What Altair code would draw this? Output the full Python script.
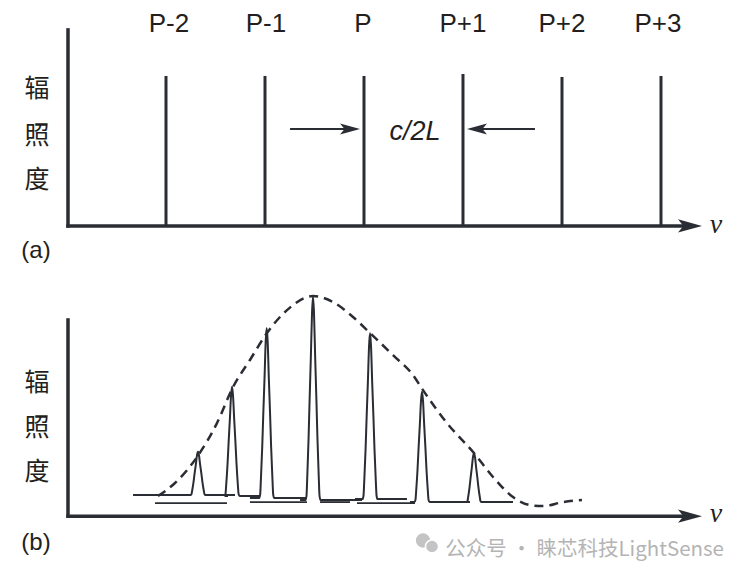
import altair as alt
import pandas as pd

# ---------------- coordinate system ----------------
# x: longitudinal mode number (P = 0, spacing c/2L = 1)
# panel (a) y: relative irradiance of ideal comb lines
# panel (b) y: relative irradiance of real modes
X_DOMAIN = [-3.596, 3.788]
YA_DOMAIN = [-2.267, 1.453]
YB_DOMAIN = [-0.343, 2.433]

INK = "#2b2d34"
TXT = "#231f20"
FILL = "#e0e1e3"

# ---------------- panel (a) data ----------------
MODE_N = [-2, -1, 0, 1, 2, 3]
MODE_AMP = [1.0, 1.0, 1.0, 1.013, 0.993, 1.0]
MODE_LABELS = ["P-2", "P-1", "P", "P+1", "P+2", "P+3"]
LABEL_N = [-1.97, -0.99, -0.01, 1.0, 2.0, 2.97]
LABEL_Y = 1.293

AXIS_A = {"x1": [-2.99, -2.99], "y1": [0.0, 0.0], "x2": [-2.99, 3.30], "y2": [1.307, 0.0]}
ARROW_SHAFT_A = {"x1": [-0.747, 1.121], "y1": [0.647, 0.647], "x2": [-0.121, 1.727], "y2": [0.647, 0.647]}
ARROW_HEAD_A = {"x": [-0.141, 1.141], "y": [0.647, 0.647], "ang": [0, 180]}
AXIS_HEAD_A = {"x": [3.293], "y": [0.0], "ang": [0]}
SPACING_LABEL = {"x": [0.515], "y": [0.573], "t": ["c/2L"]}
NU_A = {"x": [3.556], "y": [-0.047], "t": ["ν"]}
YLAB_A = {"x": [-3.303] * 3, "y": [0.913, 0.600, 0.307], "t": ["辐", "照", "度"]}
TAG_A = {"x": [-3.313], "y": [-0.167], "t": ["(a)"]}

# ---------------- panel (b) data ----------------
PEAK_CENTER = [-1.677, -1.333, -0.983, -0.515, 0.061, 0.586, 1.111]
PEAK_TOP = [0.225, 0.549, 0.841, 0.997, 0.816, 0.524, 0.219]
PEAK_BASE = [0.010, 0.005, -0.005, -0.015, -0.010, -0.025, -0.025]
PEAK_LEFT = [-2.333, -1.374, -1.152, -0.646, -0.091, 0.465, 0.990]
PEAK_RIGHT = [-1.303, -1.051, -0.576, -0.020, 0.434, 1.071, 1.505]
# line profile of one mode (offset in mode units, fraction of height)
PROFILE_DX = [-0.076, -0.066, -0.059, -0.045, -0.034, -0.022, -0.010, 0.0,
              0.010, 0.022, 0.034, 0.045, 0.059, 0.066, 0.076]
PROFILE_FR = [0.0, 0.02, 0.10, 0.30, 0.50, 0.70, 0.92, 1.0,
              0.92, 0.70, 0.50, 0.30, 0.10, 0.02, 0.0]

UNDERLINES = {"x1": [-2.111, -1.152, -0.444, -0.071], "x2": [-1.384, -0.576, -0.141, 0.515],
              "y1": [-0.030, -0.025, -0.025, -0.030], "y2": [-0.030, -0.025, -0.025, -0.030]}

ENV_X = [-2.081, -1.909, -1.687, -1.485, -1.323, -1.152, -0.980, -0.778, -0.515, -0.313, -0.111,
         0.061, 0.293, 0.495, 0.596, 0.838, 1.111, 1.303, 1.505, 1.677, 1.808, 2.010, 2.202]
ENV_Y = [0.005, 0.070, 0.199, 0.368, 0.547, 0.682, 0.816, 0.930, 1.000, 0.970, 0.896,
         0.816, 0.706, 0.607, 0.532, 0.368, 0.219, 0.100, 0.000, -0.040, -0.045, -0.025, -0.015]

AXIS_B = {"x1": [-2.99, -2.99], "y1": [-0.095, -0.095], "x2": [-2.99, 3.30], "y2": [0.881, -0.095]}
AXIS_HEAD_B = {"x": [3.293], "y": [-0.095], "ang": [0]}
NU_B = {"x": [3.556], "y": [-0.124], "t": ["ν"]}
YLAB_B = {"x": [-3.303] * 3, "y": [0.567, 0.343, 0.124], "t": ["辐", "照", "度"]}
TAG_B = {"x": [-3.313], "y": [-0.229], "t": ["(b)"]}
WATERMARK = {"x": [3.636], "y": [-0.262], "t": ["公众号 · 睐芯科技LightSense"]}
WM_ICON = {"x": [0.596, 0.687], "y": [-0.216, -0.246], "s": [250, 170]}

ARROW_PATH = "M1,0 L-1,-0.55 L-0.55,0 L-1,0.55 Z"

xs = alt.Scale(domain=X_DOMAIN, nice=False, zero=False)
ysA = alt.Scale(domain=YA_DOMAIN, nice=False, zero=False)
ysB = alt.Scale(domain=YB_DOMAIN, nice=False, zero=False)


def segs(d, ys, width, cap="butt"):
    return alt.Chart(pd.DataFrame(d)).mark_rule(color=INK, strokeWidth=width, strokeCap=cap).encode(
        x=alt.X("x1:Q", scale=xs, axis=None), x2="x2:Q",
        y=alt.Y("y1:Q", scale=ys, axis=None), y2="y2:Q")


def heads(d, ys, size):
    return alt.Chart(pd.DataFrame(d)).mark_point(
        shape=ARROW_PATH, filled=True, color=INK, opacity=1, size=size, strokeWidth=0).encode(
        x=alt.X("x:Q", scale=xs, axis=None), y=alt.Y("y:Q", scale=ys, axis=None),
        angle=alt.Angle("ang:Q", scale=None))


def texts(d, ys, **kw):
    return alt.Chart(pd.DataFrame(d)).mark_text(**kw).encode(
        x=alt.X("x:Q", scale=xs, axis=None), y=alt.Y("y:Q", scale=ys, axis=None), text="t:N")


# ---------------- panel (a) ----------------
modes = pd.DataFrame({"x": MODE_N, "amp": MODE_AMP, "z": [0.0] * len(MODE_N)})
mode_lines = alt.Chart(modes).mark_rule(color=INK, strokeWidth=3).encode(
    x=alt.X("x:Q", scale=xs, axis=None), y=alt.Y("z:Q", scale=ysA, axis=None), y2="amp:Q")
mode_labels = texts({"x": LABEL_N, "y": [LABEL_Y] * 6, "t": MODE_LABELS}, ysA,
                    font="Liberation Sans", fontSize=26, color=TXT, baseline="alphabetic", align="center")

panel_a = alt.layer(
    segs(AXIS_A, ysA, 3.5, "square"),
    mode_lines,
    segs(ARROW_SHAFT_A, ysA, 2),
    heads(ARROW_HEAD_A, ysA, 400),
    heads(AXIS_HEAD_A, ysA, 576),
    mode_labels,
    texts(SPACING_LABEL, ysA, font="Liberation Sans", fontSize=27, fontStyle="italic", color=TXT,
          baseline="alphabetic", align="center"),
    texts(NU_A, ysA, font="Liberation Serif", fontSize=28, fontStyle="italic", color=TXT,
          baseline="alphabetic", align="center"),
    texts(YLAB_A, ysA, font="Noto Sans CJK SC", fontSize=25, color=TXT, baseline="middle", align="center"),
    texts(TAG_A, ysA, font="Liberation Sans", fontSize=24, color=TXT, baseline="middle", align="center"),
)

# ---------------- panel (b) ----------------
line_rows, area_rows = [], []
for i, (c, top, base, lft, rgt) in enumerate(zip(PEAK_CENTER, PEAK_TOP, PEAK_BASE, PEAK_LEFT, PEAK_RIGHT)):
    k = 0
    line_rows.append({"pk": i, "k": k, "x": lft, "y": base}); k += 1
    for dx, fr in zip(PROFILE_DX, PROFILE_FR):
        yv = base + fr * (top - base)
        line_rows.append({"pk": i, "k": k, "x": c + dx, "y": yv}); k += 1
        area_rows.append({"pk": i, "k": k, "x": c + dx, "y": yv, "b": base})
    line_rows.append({"pk": i, "k": k, "x": rgt, "y": base})

peak_area = alt.Chart(pd.DataFrame(area_rows)).mark_area(color=FILL, interpolate="monotone", opacity=1).encode(
    x=alt.X("x:Q", scale=xs, axis=None), y=alt.Y("y:Q", scale=ysB, axis=None), y2="b:Q",
    detail="pk:N", order="k:Q")
peak_line = alt.Chart(pd.DataFrame(line_rows)).mark_line(color=INK, strokeWidth=2, interpolate="monotone").encode(
    x=alt.X("x:Q", scale=xs, axis=None), y=alt.Y("y:Q", scale=ysB, axis=None),
    detail="pk:N", order="k:Q")
envelope = alt.Chart(pd.DataFrame({"x": ENV_X, "y": ENV_Y})).mark_line(
    color=INK, strokeWidth=2.5, strokeDash=[9, 6], interpolate="monotone").encode(
    x=alt.X("x:Q", scale=xs, axis=None), y=alt.Y("y:Q", scale=ysB, axis=None))
wm_icon = alt.Chart(pd.DataFrame(WM_ICON)).mark_point(
    shape="circle", filled=True, color="#c4c4c4", opacity=1, stroke="white", strokeWidth=1.5).encode(
    x=alt.X("x:Q", scale=xs, axis=None), y=alt.Y("y:Q", scale=ysB, axis=None),
    size=alt.Size("s:Q", scale=None))

panel_b = alt.layer(
    segs(AXIS_B, ysB, 3.5, "square"),
    heads(AXIS_HEAD_B, ysB, 576),
    peak_area,
    segs(UNDERLINES, ysB, 1.8),
    peak_line,
    envelope,
    texts(NU_B, ysB, font="Liberation Serif", fontSize=28, fontStyle="italic", color=TXT,
          baseline="alphabetic", align="center"),
    texts(YLAB_B, ysB, font="Noto Sans CJK SC", fontSize=25, color=TXT, baseline="middle", align="center"),
    texts(TAG_B, ysB, font="Liberation Sans", fontSize=24, color=TXT, baseline="middle", align="center"),
    wm_icon,
    texts(WATERMARK, ysB, font="Noto Sans CJK SC", fontSize=20.5, color="#b4b4b4", baseline="middle", align="right"),
)

chart = alt.layer(panel_a, panel_b).resolve_scale(y="independent").properties(
    width=731, height=558, padding=0, autosize=alt.AutoSizeParams(type="none"),
).configure_view(stroke=None)

chart.save("out.html", embed_options={"renderer": "svg", "actions": False})
